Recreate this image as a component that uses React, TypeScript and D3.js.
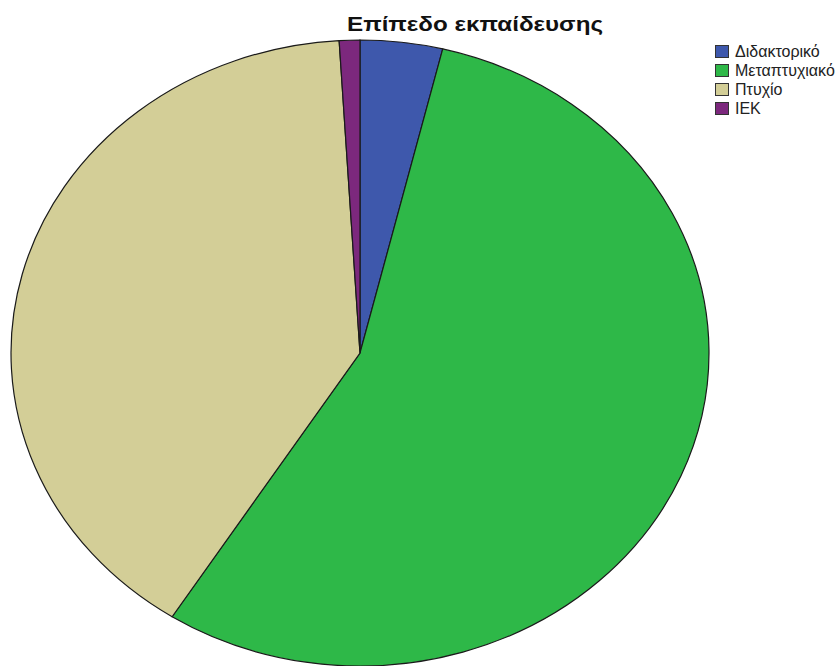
import React from "react";
import * as d3 from "d3";

const categories = ["Διδακτορικό", "Μεταπτυχιακό", "Πτυχίο", "ΙΕΚ"];
const counts = [4, 58, 42, 1];
const colors = ["#3E58AC", "#2EB848", "#D3CE97", "#7C287D"];
const title = "Επίπεδο εκπαίδευσης";

export default function App() {
  const W = 837, H = 666;
  const cx = 360, cy = 353, rx = 349, ry = 313;
  const pie = d3.pie<number>().sort(null).value((d) => d);
  const arcs = pie(counts);
  const arc = d3.arc<d3.PieArcDatum<number>>().innerRadius(0).outerRadius(ry);
  return (
    <svg width={W} height={H} style={{ position: "absolute", left: 0, top: 0, background: "#fff" }}
      fontFamily="Liberation Sans, Arial, sans-serif">
      <rect width={W} height={H} fill="#fff" />
      <g transform={`translate(${cx},${cy}) scale(${rx / ry},1)`}>
        {arcs.map((a, i) => (
          <path key={i} d={arc(a) || ""} fill={colors[i]} stroke="#1a1a1a" strokeWidth={1.2}
            vectorEffect="non-scaling-stroke" />
        ))}
      </g>
      <text x={347} y={31} fontSize={20.5} fontWeight="bold" fill="#111"
        fontFamily="Liberation Sans, Arial, sans-serif" textLength={256} lengthAdjust="spacingAndGlyphs">{title}</text>
      <g transform="translate(715,45)">
        {categories.map((c, i) => (
          <g key={c} transform={`translate(0,${i * 19})`}>
            <rect x={0.5} y={0.5} width={13} height={12} fill={colors[i]} stroke="#333" strokeWidth={1} />
            <text x={20} y={12} fontSize={16} fill="#222">{c}</text>
          </g>
        ))}
      </g>
    </svg>
  );
}
